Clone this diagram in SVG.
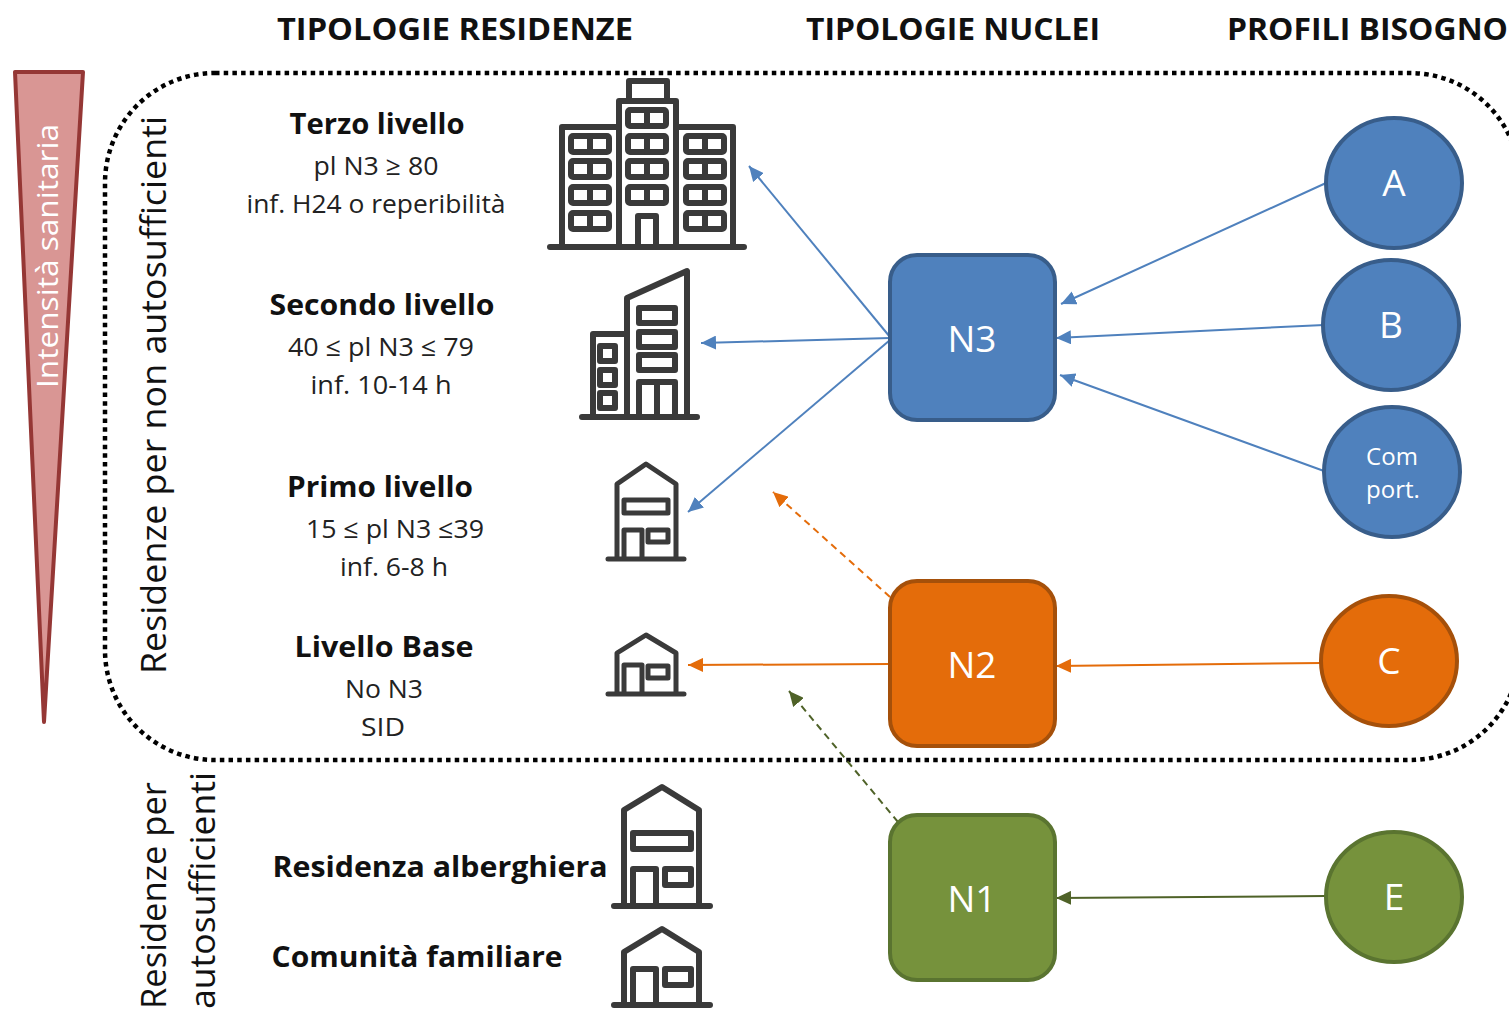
<svg xmlns="http://www.w3.org/2000/svg" width="1509" height="1010" viewBox="0 0 1509 1010">
<style>
text{font-family:"Open Sans","Noto Sans","Liberation Sans",sans-serif;fill:#1a1a1a}
.h{font-size:31px;font-weight:700;fill:#111}
.t{font-size:29px;font-weight:700;text-anchor:middle;fill:#111}
.s{font-size:26px;text-anchor:middle;fill:#222}
.v{font-size:34px;fill:#111}
.n{font-size:37px;fill:#fff;text-anchor:middle}
.i{fill:none;stroke:#3a3a3a;stroke-width:6;stroke-linejoin:round;stroke-linecap:round}
.b{fill:#4f81bd;stroke:#385d8a;stroke-width:4}
.o{fill:#e46c0a;stroke:#a5500a;stroke-width:4}
.g{fill:#76923c;stroke:#5a7430;stroke-width:4}
.cb{stroke:#4f81bd;stroke-width:2;fill:none;marker-end:url(#ab)}
.co{stroke:#e46c0a;stroke-width:2;fill:none;marker-end:url(#ao)}
.cg{stroke:#4f6228;stroke-width:2;fill:none;marker-end:url(#ag)}
</style>
<defs>
<marker id="ab" markerUnits="userSpaceOnUse" markerWidth="16" markerHeight="14" refX="15" refY="7" orient="auto"><path d="M0 0L15 7L0 14Z" fill="#4f81bd"/></marker>
<marker id="ao" markerUnits="userSpaceOnUse" markerWidth="16" markerHeight="14" refX="15" refY="7" orient="auto"><path d="M0 0L15 7L0 14Z" fill="#e46c0a"/></marker>
<marker id="ag" markerUnits="userSpaceOnUse" markerWidth="16" markerHeight="14" refX="15" refY="7" orient="auto"><path d="M0 0L15 7L0 14Z" fill="#4f6228"/></marker>
</defs>
<rect width="1509" height="1010" fill="#fff"/>

<g id="headers">
<text class="h" x="277" y="40" textLength="356" lengthAdjust="spacingAndGlyphs">TIPOLOGIE RESIDENZE</text>
<text class="h" x="806" y="40" textLength="294" lengthAdjust="spacingAndGlyphs">TIPOLOGIE NUCLEI</text>
<text class="h" x="1227" y="40" textLength="281" lengthAdjust="spacingAndGlyphs">PROFILI BISOGNO</text>
</g>

<g id="intensita">
<path d="M15 72H83L44 722Z" fill="#d99694" stroke="#953735" stroke-width="4" stroke-linejoin="round"/>
<text transform="translate(58 388) rotate(-90)" font-size="30" style="fill:#fff" textLength="264" lengthAdjust="spacingAndGlyphs">Intensità sanitaria</text>
</g>

<g id="perimetro">
<rect x="105" y="73" width="1415" height="687" rx="110" ry="110" fill="none" stroke="#000" stroke-width="4.5" stroke-dasharray="4.5 4.2"/>
</g>

<g id="etichette-laterali">
<text class="v" transform="translate(166 674) rotate(-90)" textLength="558" lengthAdjust="spacingAndGlyphs">Residenze per non autosufficienti</text>
<text class="v" transform="translate(166 1009) rotate(-90)" textLength="227" lengthAdjust="spacingAndGlyphs">Residenze per</text>
<text class="v" transform="translate(215 1009) rotate(-90)" textLength="237" lengthAdjust="spacingAndGlyphs">autosufficienti</text>
</g>

<g id="terzo">
<text class="t" x="377" y="134" textLength="175" lengthAdjust="spacingAndGlyphs">Terzo livello</text>
<text class="s" x="376" y="175" textLength="125" lengthAdjust="spacingAndGlyphs">pl N3 ≥ 80</text>
<text class="s" x="376" y="213" textLength="259" lengthAdjust="spacingAndGlyphs">inf. H24 o reperibilità</text>
<g class="i">
<path d="M550 247H744M562 247V127H619M733 247V127H676M619 247V101H676V247M629 101V81H667V101M638 247V216H656V247"/>
<rect x="571" y="136" width="38" height="16" rx="2"/><rect x="571" y="161" width="38" height="16" rx="2"/><rect x="571" y="187" width="38" height="16" rx="2"/><rect x="571" y="213" width="38" height="16" rx="2"/>
<rect x="628" y="110" width="38" height="16" rx="2"/><rect x="628" y="136" width="38" height="16" rx="2"/><rect x="628" y="161" width="38" height="16" rx="2"/><rect x="628" y="187" width="38" height="16" rx="2"/>
<rect x="686" y="136" width="38" height="16" rx="2"/><rect x="686" y="161" width="38" height="16" rx="2"/><rect x="686" y="187" width="38" height="16" rx="2"/><rect x="686" y="213" width="38" height="16" rx="2"/>
<path d="M590 136V152M590 161V177M590 187V203M590 213V229M647 110V126M647 136V152M647 161V177M647 187V203M705 136V152M705 161V177M705 187V203M705 213V229"/>
</g>
</g>

<g id="secondo">
<text class="t" x="382" y="315" textLength="225" lengthAdjust="spacingAndGlyphs">Secondo livello</text>
<text class="s" x="381" y="356" textLength="186" lengthAdjust="spacingAndGlyphs">40 ≤ pl N3 ≤ 79</text>
<text class="s" x="381" y="394" textLength="141" lengthAdjust="spacingAndGlyphs">inf. 10-14 h</text>
<g class="i">
<path d="M582 417H697M593 417V334H627M627 417V298L687 271V417"/>
<rect x="600" y="346" width="15" height="15"/><rect x="600" y="370" width="15" height="15"/><rect x="600" y="393" width="15" height="15"/>
<rect x="639" y="308" width="36" height="15"/><rect x="639" y="332" width="36" height="15"/><rect x="639" y="355" width="36" height="15"/>
<path d="M639 417V382H675V417M657 382V417"/>
</g>
</g>

<g id="primo">
<text class="t" x="380" y="497" textLength="186" lengthAdjust="spacingAndGlyphs">Primo livello</text>
<text class="s" x="395" y="538" textLength="178" lengthAdjust="spacingAndGlyphs">15 ≤ pl N3 ≤39</text>
<text class="s" x="394" y="576" textLength="108" lengthAdjust="spacingAndGlyphs">inf. 6-8 h</text>
<g class="i" style="stroke-width:5">
<path d="M608 559H684M617 559V484L646 464L676 484V559M624 559V530H642V559"/>
<rect x="624" y="500" width="44" height="13"/><rect x="648" y="530" width="20" height="12"/>
</g>
</g>

<g id="base">
<text class="t" x="384" y="657" textLength="179" lengthAdjust="spacingAndGlyphs">Livello Base</text>
<text class="s" x="384" y="698" textLength="78" lengthAdjust="spacingAndGlyphs">No N3</text>
<text class="s" x="383" y="736" textLength="44" lengthAdjust="spacingAndGlyphs">SID</text>
<g class="i" style="stroke-width:5">
<path d="M608 694H684M617 694V653L646 635L676 653V694M624 694V665H642V694"/>
<rect x="648" y="666" width="20" height="12"/>
</g>
</g>

<g id="alberghiera">
<text class="t" x="440" y="877" textLength="335" lengthAdjust="spacingAndGlyphs">Residenza alberghiera</text>
<g class="i">
<path d="M614 906H710M624 906V810L662 787L699 810V906M633 906V869H656V906"/>
<rect x="633" y="833" width="58" height="16"/><rect x="665" y="869" width="26" height="16"/>
</g>
</g>

<g id="familiare">
<text class="t" x="417" y="967" textLength="291" lengthAdjust="spacingAndGlyphs">Comunità familiare</text>
<g class="i">
<path d="M614 1005H710M624 1005V952L662 929L699 952V1005M633 1005V969H656V1005"/>
<rect x="665" y="969" width="26" height="16"/>
</g>
</g>

<g id="connettori">
<path class="cb" d="M890 337L749 166"/>
<path class="cb" d="M890 338L701 343"/>
<path class="cb" d="M890 340L688 512"/>
<path class="cb" d="M1326 183L1061 304"/>
<path class="cb" d="M1324 325L1056 338"/>
<path class="cb" d="M1324 471L1060 375"/>
<path class="co" stroke-dasharray="7 5" d="M890 597L773 492"/>
<path class="co" d="M890 664L688 665"/>
<path class="co" d="M1322 663L1056 666"/>
<path class="cg" stroke-dasharray="7 5" d="M898 822L789 691"/>
<path class="cg" d="M1326 896L1056 898"/>
</g>

<g id="N3"><rect class="b" x="890" y="255" width="165" height="165" rx="27"/><text class="n" x="972" y="352">N3</text></g>
<g id="N2"><rect class="o" x="890" y="581" width="165" height="165" rx="27"/><text class="n" x="972" y="678">N2</text></g>
<g id="N1"><rect class="g" x="890" y="815" width="165" height="165" rx="27"/><text class="n" x="972" y="912">N1</text></g>

<g id="A"><ellipse class="b" cx="1394" cy="183" rx="68" ry="65"/><text class="n" x="1394" y="196">A</text></g>
<g id="B"><ellipse class="b" cx="1391" cy="325" rx="68" ry="65"/><text class="n" x="1391" y="338">B</text></g>
<g id="Comport"><ellipse class="b" cx="1392" cy="472" rx="68" ry="65"/><text class="n" x="1392" y="465" style="font-size:24px">Com</text><text class="n" x="1393" y="498" style="font-size:24px">port.</text></g>
<g id="C"><ellipse class="o" cx="1389" cy="661" rx="68" ry="65"/><text class="n" x="1389" y="674">C</text></g>
<g id="E"><ellipse class="g" cx="1394" cy="897" rx="68" ry="65"/><text class="n" x="1394" y="910">E</text></g>
</svg>
